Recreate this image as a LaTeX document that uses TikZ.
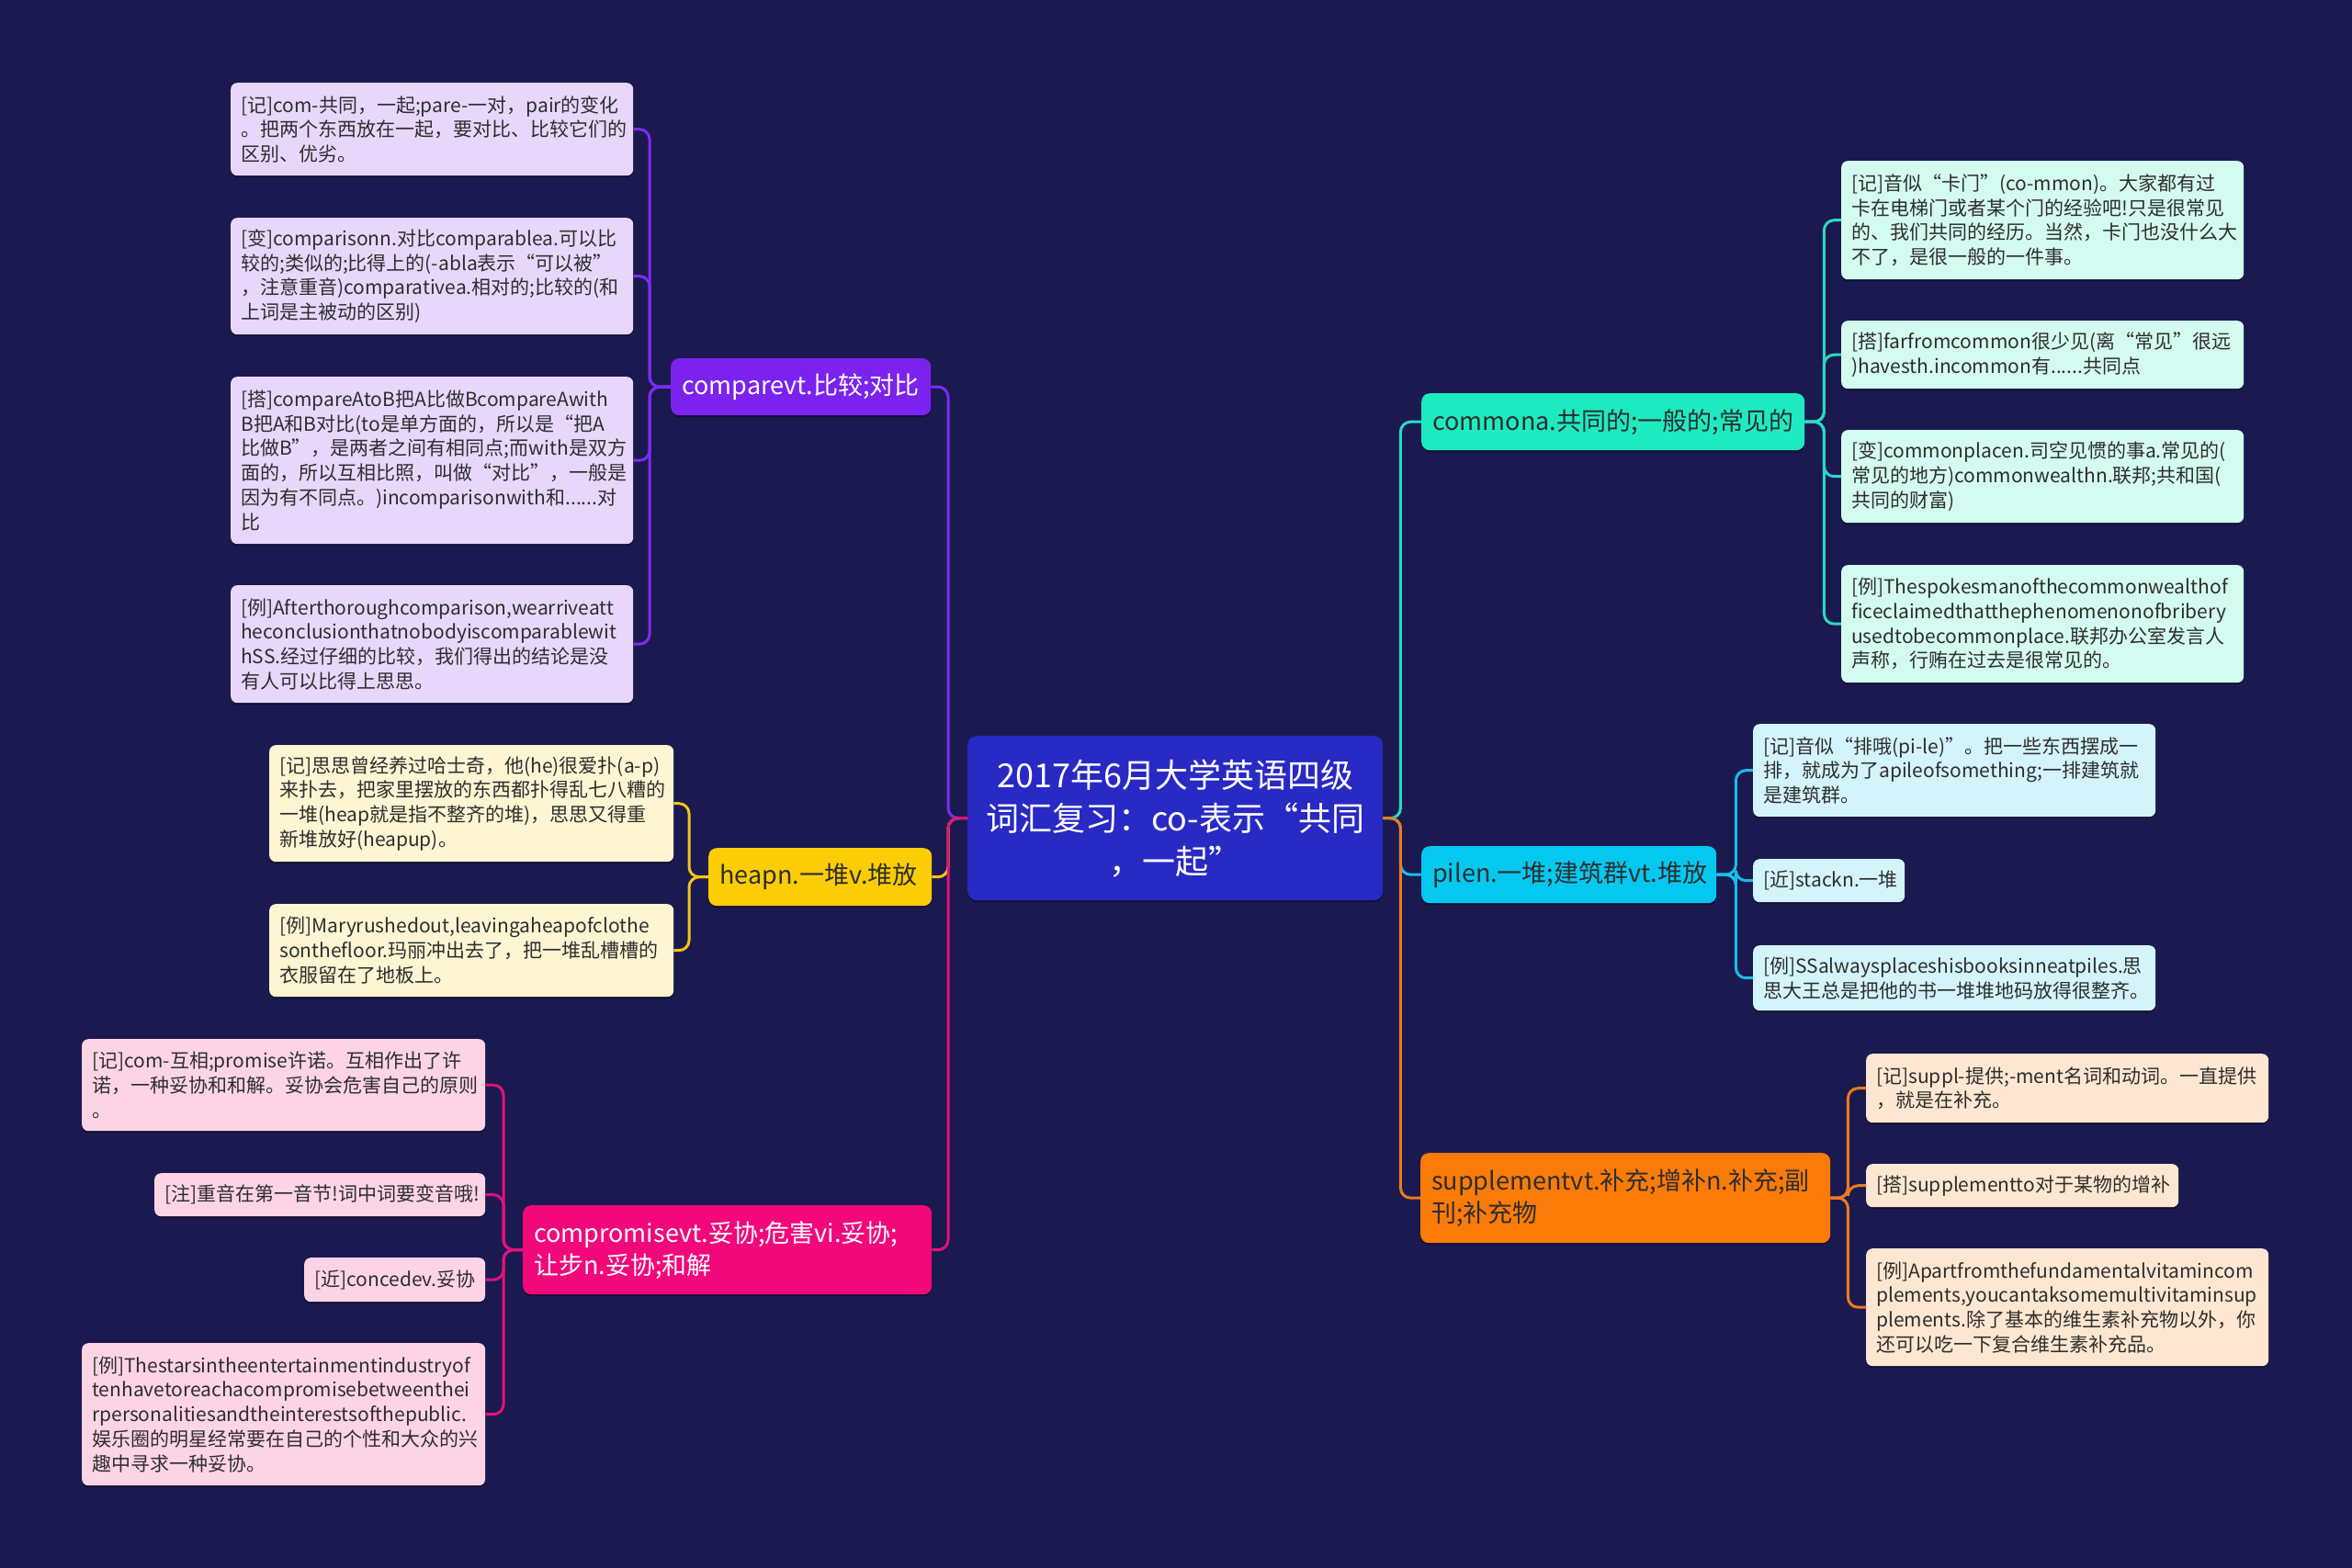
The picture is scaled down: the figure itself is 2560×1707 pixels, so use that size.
\documentclass[tikz,border=0pt]{standalone}
\usepackage{fontspec}
\newfontfamily\cjk{Noto Sans CJK SC}
\usetikzlibrary{shadows}
\definecolor{bg}{HTML}{1B1A50}
\definecolor{ctrF}{HTML}{2929C4}
\definecolor{dark}{HTML}{2E2E2E}
\definecolor{cmpF}{HTML}{7B22EF}\definecolor{cmpL}{HTML}{E8D7FB}\definecolor{cmpLine}{HTML}{7E2CF0}
\definecolor{heapF}{HTML}{FCCD05}\definecolor{heapL}{HTML}{FEF5D3}\definecolor{heapLine}{HTML}{F3C516}
\definecolor{cpmF}{HTML}{F2087A}\definecolor{cpmL}{HTML}{FDD4E6}\definecolor{cpmLine}{HTML}{E3117B}
\definecolor{comF}{HTML}{1EEAC0}\definecolor{comL}{HTML}{D4FBF0}\definecolor{comLine}{HTML}{2CD8C2}
\definecolor{pileF}{HTML}{05C8F0}\definecolor{pileL}{HTML}{D4F4FB}\definecolor{pileLine}{HTML}{19BEE6}
\definecolor{supF}{HTML}{FB7B08}\definecolor{supL}{HTML}{FDE7D2}\definecolor{supLine}{HTML}{EC7A1E}
\begin{document}
\begin{tikzpicture}[x=1pt,y=-1pt,
  box/.style={anchor=north west, rounded corners=7pt, inner xsep=11pt, inner ysep=0pt, align=left,
    drop shadow={shadow xshift=0pt, shadow yshift=-2pt, fill=black, opacity=0.35}},
  leaf/.style={box, text=dark, font=\cjk\fontsize{21}{26.7}\selectfont},
  mainbox/.style={box, rounded corners=9pt, inner xsep=12pt, font=\cjk\fontsize{27}{35}\selectfont},
  link/.style={line width=3pt, rounded corners=11pt},
]
\fill[bg] (0,0) rectangle (2560,1707);
\useasboundingbox (0,0) rectangle (2560,1707);

% centre
\node[box, fill=ctrF, text=white, align=center, text width=430pt, minimum height=179pt,
  rounded corners=10pt, font=\cjk\fontsize{36}{47}\selectfont] (ctr) at (1053,801)
  {2017年6月大学英语四级\\词汇复习：co-表示“共同\\，一起”};

% main branches
\node[mainbox, fill=cmpF, text=white, text width=259pt, minimum height=62pt] (cmp) at (730,390) {comparevt.比较;对比};
\node[mainbox, fill=heapF, text=dark, text width=219pt, minimum height=63pt] (heap) at (771,923) {heapn.一堆v.堆放};
\node[mainbox, fill=cpmF, text=white, text width=421pt, minimum height=97pt] (cpm) at (569,1312) {compromisevt.妥协;危害vi.妥协;\\让步n.妥协;和解};
\node[mainbox, fill=comF, text=dark, text width=393pt, minimum height=62pt] (com) at (1547,428) {commona.共同的;一般的;常见的};
\node[mainbox, fill=pileF, text=dark, text width=297pt, minimum height=62pt] (pile) at (1547,921) {pilen.一堆;建筑群vt.堆放};
\node[mainbox, fill=supF, text=dark, text width=422pt, minimum height=98pt] (sup) at (1546,1255) {supplementvt.补充;增补n.补充;副\\刊;补充物};

% compare leaves
\node[leaf, fill=cmpL, text width=416pt, minimum height=101pt] (c1) at (251,90)
 {[记]com-共同，一起;pare-一对，pair的变化\\。把两个东西放在一起，要对比、比较它们的\\区别、优劣。};
\node[leaf, fill=cmpL, text width=416pt, minimum height=127pt] (c2) at (251,237)
 {[变]comparisonn.对比comparablea.可以比\\较的;类似的;比得上的(-abla表示“可以被”\\，注意重音)comparativea.相对的;比较的(和\\上词是主被动的区别)};
\node[leaf, fill=cmpL, text width=416pt, minimum height=182pt] (c3) at (251,410)
 {[搭]compareAtoB把A比做BcompareAwith\\B把A和B对比(to是单方面的，所以是“把A\\比做B”，是两者之间有相同点;而with是双方\\面的，所以互相比照，叫做“对比”，一般是\\因为有不同点。)incomparisonwith和......对\\比};
\node[leaf, fill=cmpL, text width=416pt, minimum height=128pt] (c4) at (251,637)
 {[例]Afterthoroughcomparison,wearriveatt\\heconclusionthatnobodyiscomparablewit\\hSS.经过仔细的比较，我们得出的结论是没\\有人可以比得上思思。};

% heap leaves
\node[leaf, fill=heapL, text width=418pt, minimum height=127pt] (h1) at (293,811)
 {[记]思思曾经养过哈士奇，他(he)很爱扑(a-p)\\来扑去，把家里摆放的东西都扑得乱七八糟的\\一堆(heap就是指不整齐的堆)，思思又得重\\新堆放好(heapup)。};
\node[leaf, fill=heapL, text width=418pt, minimum height=101pt] (h2) at (293,984)
 {[例]Maryrushedout,leavingaheapofclothe\\sonthefloor.玛丽冲出去了，把一堆乱槽槽的\\衣服留在了地板上。};

% compromise leaves
\node[leaf, fill=cpmL, text width=417pt, minimum height=100pt] (p1) at (89,1131)
 {[记]com-互相;promise许诺。互相作出了许\\诺，一种妥协和和解。妥协会危害自己的原则\\。};
\node[leaf, fill=cpmL, text width=338pt, minimum height=47pt] (p2) at (168,1277)
 {[注]重音在第一音节!词中词要变音哦!};
\node[leaf, fill=cpmL, text width=175pt, minimum height=48pt] (p3) at (331,1369)
 {[近]concedev.妥协};
\node[leaf, fill=cpmL, text width=417pt, minimum height=155pt] (p4) at (89,1462)
 {[例]Thestarsintheentertainmentindustryof\\tenhavetoreachacompromisebetweenthei\\rpersonalitiesandtheinterestsofthepublic.\\娱乐圈的明星经常要在自己的个性和大众的兴\\趣中寻求一种妥协。};

% common leaves
\node[leaf, fill=comL, text width=416pt, minimum height=129pt] (m1) at (2004,175)
 {[记]音似“卡门”(co-mmon)。大家都有过\\卡在电梯门或者某个门的经验吧!只是很常见\\的、我们共同的经历。当然，卡门也没什么大\\不了，是很一般的一件事。};
\node[leaf, fill=comL, text width=416pt, minimum height=74pt] (m2) at (2004,349)
 {[搭]farfromcommon很少见(离“常见”很远\\)havesth.incommon有......共同点};
\node[leaf, fill=comL, text width=416pt, minimum height=101pt] (m3) at (2004,468)
 {[变]commonplacen.司空见惯的事a.常见的(\\常见的地方)commonwealthn.联邦;共和国(\\共同的财富)};
\node[leaf, fill=comL, text width=416pt, minimum height=128pt] (m4) at (2004,615)
 {[例]Thespokesmanofthecommonwealthof\\ficeclaimedthatthephenomenonofbribery\\usedtobecommonplace.联邦办公室发言人\\声称，行贿在过去是很常见的。};

% pile leaves
\node[leaf, fill=pileL, text width=416pt, minimum height=101pt] (l1) at (1908,788)
 {[记]音似“排哦(pi-le)”。把一些东西摆成一\\排，就成为了apileofsomething;一排建筑就\\是建筑群。};
\node[leaf, fill=pileL, text width=143pt, minimum height=47pt] (l2) at (1908,935)
 {[近]stackn.一堆};
\node[leaf, fill=pileL, text width=416pt, minimum height=71pt] (l3) at (1908,1029)
 {[例]SSalwaysplaceshisbooksinneatpiles.思\\思大王总是把他的书一堆堆地码放得很整齐。};

% supplement leaves
\node[leaf, fill=supL, text width=416pt, minimum height=75pt] (s1) at (2031,1147)
 {[记]suppl-提供;-ment名词和动词。一直提供\\，就是在补充。};
\node[leaf, fill=supL, text width=318pt, minimum height=47pt] (s2) at (2031,1267)
 {[搭]supplementto对于某物的增补};
\node[leaf, fill=supL, text width=416pt, minimum height=128pt] (s3) at (2031,1359)
 {[例]Apartfromthefundamentalvitamincom\\plements,youcantaksomemultivitaminsup\\plements.除了基本的维生素补充物以外，你\\还可以吃一下复合维生素补充品。};

% main connectors
\begin{scope}[on background layer/.style={}]
\draw[link, draw=cmpLine] (ctr.west) -- ([xshift=-21pt]ctr.west) |- (cmp.east);
\draw[link, draw=heapLine] (ctr.west) -- ([xshift=-21pt]ctr.west) |- (heap.east);
\draw[link, draw=cpmLine] (ctr.west) -- ([xshift=-21pt]ctr.west) |- (cpm.east);
\draw[link, draw=comLine] (ctr.east) -- ([xshift=19pt]ctr.east) |- (com.west);
\draw[link, draw=pileLine] (ctr.east) -- ([xshift=19pt]ctr.east) |- (pile.west);
\draw[link, draw=supLine] (ctr.east) -- ([xshift=19pt]ctr.east) |- (sup.west);
\end{scope}

% sub connectors
\foreach \n in {c1,c2,c3,c4}
  \draw[link, draw=cmpLine] (cmp.west) -- ([xshift=-23pt]cmp.west) |- (\n.east);
\foreach \n in {h1,h2}
  \draw[link, draw=heapLine] (heap.west) -- ([xshift=-21pt]heap.west) |- (\n.east);
\foreach \n in {p1,p2,p3,p4}
  \draw[link, draw=cpmLine] (cpm.west) -- ([xshift=-21pt]cpm.west) |- (\n.east);
\foreach \n in {m1,m2,m3,m4}
  \draw[link, draw=comLine] (com.east) -- ([xshift=21pt]com.east) |- (\n.west);
\foreach \n in {l1,l2,l3}
  \draw[link, draw=pileLine] (pile.east) -- ([xshift=21pt]pile.east) |- (\n.west);
\foreach \n in {s1,s2,s3}
  \draw[link, draw=supLine] (sup.east) -- ([xshift=19pt]sup.east) |- (\n.west);
\end{tikzpicture}
\end{document}
